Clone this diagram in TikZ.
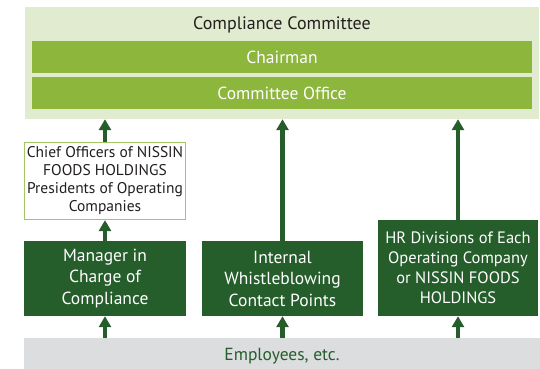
\documentclass[tikz,border=0pt]{standalone}
\usepackage{fontspec}
\setmainfont{PT Sans}
\usepackage{xcolor}
\usetikzlibrary{arrows.meta}

\definecolor{palegreen}{HTML}{E1EBCF}
\definecolor{leafgreen}{HTML}{8CB63C}
\definecolor{darkgreen}{HTML}{255D2B}
\definecolor{lightgrey}{HTML}{DCDDDF}
\definecolor{inkgrey}{HTML}{231F20}

\begin{document}
\begin{tikzpicture}[x=1pt,y=-1pt,
  bar/.style={fill=leafgreen,text=white,inner sep=0pt,minimum width=500pt,minimum height=32pt,font=\fontsize{17.5}{20}\selectfont},
  darkbox/.style={fill=darkgreen,text=white,inner sep=0pt,align=center,font=\fontsize{17.5}{21.5}\selectfont},
  up/.style={draw=darkgreen,line width=4.5pt,-{Triangle[width=12pt,length=11pt]}}]
\useasboundingbox (0,0) rectangle (540,368);

%% committee
\node[fill=palegreen,inner sep=0pt,minimum width=514pt,minimum height=112pt] (cc) at (282,63) {};
\node[text=inkgrey,font=\fontsize{18}{20}\selectfont] (cctitle) at (282,25) {Compliance Committee};
\node[bar] (chair) at (282,57) {Chairman};
\node[bar] (office) at (282,93) {Committee Office};

%% reporting boxes
\node[draw=leafgreen!80,line width=1.2pt,fill=white,text=inkgrey,inner sep=0pt,
  minimum width=161pt,minimum height=77pt,align=center,
  font=\fontsize{15.5}{18}\selectfont] (chief) at (105,181)
  {Chief Officers of NISSIN\\FOODS HOLDINGS\\Presidents of Operating\\Companies};
\node[darkbox,minimum width=162pt,minimum height=75pt] (manager) at (105,278.5)
  {Manager in\\Charge of\\Compliance};
\node[darkbox,minimum width=161pt,minimum height=75pt] (hotline) at (282.5,278.5)
  {Internal\\Whistleblowing\\Contact Points};
\node[darkbox,minimum width=160pt,minimum height=96pt,font=\fontsize{16.5}{20}\selectfont] (hr) at (458,268)
  {HR Divisions of Each\\Operating Company\\or NISSIN FOODS\\HOLDINGS};

%% employees
\node[fill=lightgrey,text=darkgreen,inner sep=0pt,minimum width=516pt,minimum height=36pt,
  font=\fontsize{17.5}{20}\selectfont] (emp) at (282,356) {Employees, etc.};

%% arrows
\draw[up] (chief.north) -- (cc.south -| chief.north);
\draw[up] (manager.north) -- (chief.south);
\draw[up] (hotline.north) -- (cc.south -| hotline.north);
\draw[up] (hr.north) -- (cc.south -| hr.north);
\foreach \b in {manager,hotline,hr}
  \draw[up] (emp.north -| \b.south) -- (\b.south);
\end{tikzpicture}
\end{document}
